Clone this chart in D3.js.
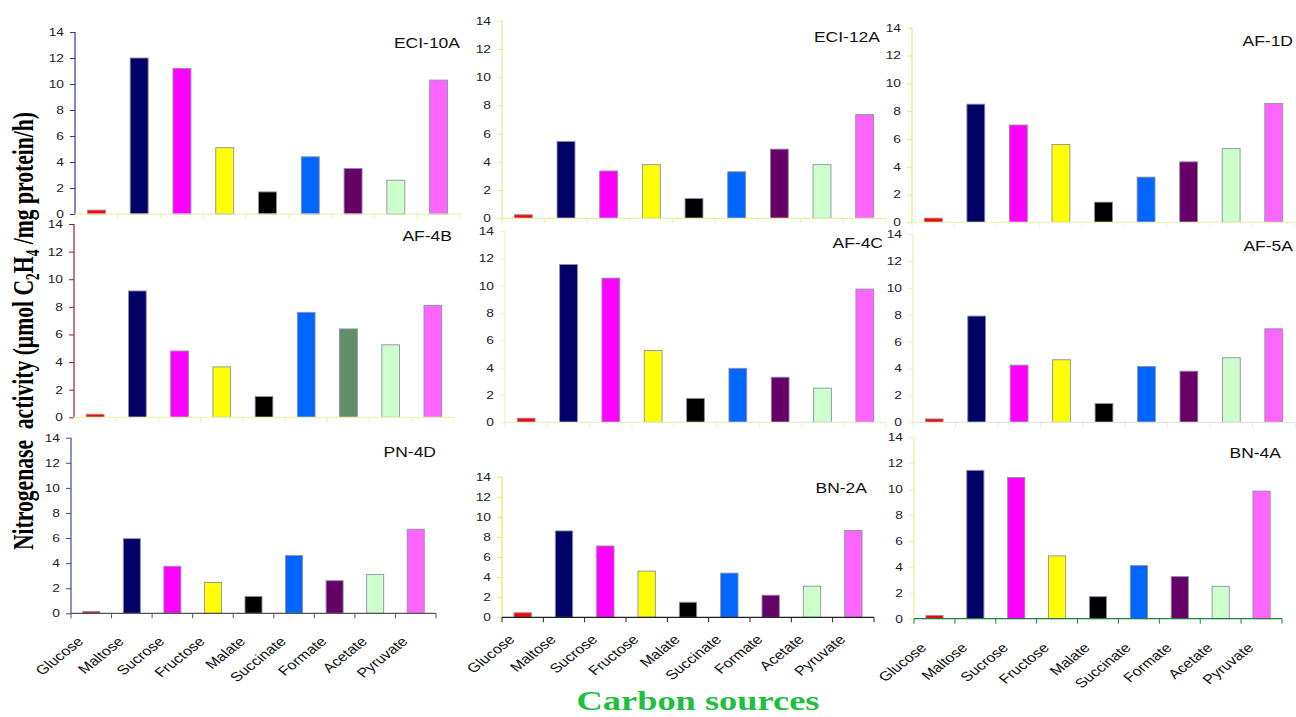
<!DOCTYPE html>
<html>
<head>
<meta charset="utf-8">
<script src="https://cdn.jsdelivr.net/npm/d3@7"></script>
<style>
  html, body { margin: 0; padding: 0; background: #fff; }
  svg { display: block; }
  .sans { font-family: "Liberation Sans", Arial, sans-serif; }
  .serif { font-family: "Liberation Serif", "Times New Roman", serif; font-weight: bold; }
</style>
</head>
<body>
<svg id="chart" width="1296" height="717"></svg>
<script>
// ---------------- DATA ----------------
const categories = ["Glucose", "Maltose", "Sucrose", "Fructose", "Malate", "Succinate", "Formate", "Acetate", "Pyruvate"];
const panelNames = ["ECI-10A", "ECI-12A", "AF-1D", "AF-4B", "AF-4C", "AF-5A", "PN-4D", "BN-2A", "BN-4A"];
const eci10a = [0.3, 12.0, 11.2, 5.1, 1.7, 4.4, 3.5, 2.6, 10.3];
const eci12a = [0.25, 5.45, 3.35, 3.8, 1.4, 3.3, 4.9, 3.8, 7.35];
const af1d   = [0.3, 8.5, 7.0, 5.6, 1.45, 3.25, 4.35, 5.3, 8.55];
const af4b   = [0.22, 9.15, 4.8, 3.65, 1.5, 7.6, 6.4, 5.25, 8.1];
const af4c   = [0.3, 11.55, 10.55, 5.25, 1.75, 3.95, 3.3, 2.5, 9.75];
const af5a   = [0.25, 7.9, 4.25, 4.65, 1.4, 4.15, 3.8, 4.8, 6.95];
const pn4d   = [0.15, 5.95, 3.75, 2.45, 1.35, 4.6, 2.6, 3.1, 6.7];
const bn2a   = [0.45, 8.6, 7.1, 4.6, 1.5, 4.4, 2.2, 3.1, 8.65];
const bn4a   = [0.25, 11.45, 10.9, 4.85, 1.7, 4.1, 3.25, 2.5, 9.85];
const seriesValues = [eci10a, eci12a, af1d, af4b, af4c, af5a, pn4d, bn2a, bn4a];
const yTickValues = [0, 2, 4, 6, 8, 10, 12, 14];
const yMax = 14;

// ---------------- STYLE / LAYOUT ----------------
const barColors = ["#ff0000", "#000066", "#ff00ff", "#ffff00", "#000000", "#0066ff", "#660066", "#ccffcc", "#ff66ff"];
const af4bFormateColor = "#5f8f68";
const layout = [
  {x0: 75,  x1: 460,  yTop: 32,    yBot: 214,   lx: 460,  ly: 48,  yc: "#2a3a8a", xc: "#e6f0a0"},
  {x0: 502, x1: 886,  yTop: 20.7,  yBot: 218.3, lx: 880,  ly: 42,  yc: "#e4ea90", xc: "#e6f0a0"},
  {x0: 912, x1: 1295, yTop: 27.7,  yBot: 222.3, lx: 1293, ly: 46,  yc: "#d8ec80", xc: "#eef2c0"},
  {x0: 74,  x1: 454,  yTop: 224,   yBot: 417.3, lx: 452,  ly: 241, yc: "#8b2040", xc: "#eef2b0"},
  {x0: 505, x1: 886,  yTop: 231,   yBot: 422.3, lx: 883,  ly: 248, yc: "#eef0c0", xc: "#e8ecc8"},
  {x0: 913, x1: 1295, yTop: 234,   yBot: 422.3, lx: 1293, ly: 251, yc: "#eeeeb0", xc: "#e4e6d8"},
  {x0: 71,  x1: 436,  yTop: 437.7, yBot: 613.3, lx: 436,  ly: 457, yc: "#3050a0", xc: "#555555", cdy: 29},
  {x0: 502, x1: 874,  yTop: 476.7, yBot: 617.3, lx: 867,  ly: 493, yc: "#e8e860", xc: "#222222", cdy: 23},
  {x0: 914, x1: 1282, yTop: 437.3, yBot: 618.7, lx: 1281, ly: 458, yc: "#e8eca0", xc: "#208040", cdy: 30}
];
const stretch = 1.25;

const svg = d3.select("#chart");

layout.forEach((L, p) => {
  const vals = seriesValues[p];
  const g = svg.append("g");
  const x = d3.scaleBand().domain(categories).range([L.x0, L.x1]).paddingInner(0.58).paddingOuter(0.29);
  const step = x.step();
  const y = d3.scaleLinear().domain([0, yMax]).range([L.yBot, L.yTop]);

  // bars
  g.selectAll("rect.bar").data(categories).enter().append("rect")
    .attr("class", "bar")
    .attr("x", d => x(d))
    .attr("width", x.bandwidth())
    .attr("y", (d, i) => y(vals[i]))
    .attr("height", (d, i) => y(0) - y(vals[i]))
    .attr("fill", (d, i) => (p === 3 && i === 6) ? af4bFormateColor : barColors[i])
    .attr("stroke", "#8f8fa8")
    .attr("stroke-width", 0.9);

  // y axis
  const ya = g.append("g").attr("transform", `translate(${L.x0},0)`)
    .call(d3.axisLeft(y).tickValues(yTickValues).tickSize(5).tickFormat(""));
  ya.select(".domain").attr("stroke", L.yc).attr("stroke-width", 1.2).attr("d", `M0,${L.yTop}V${L.yBot}`);
  ya.selectAll(".tick line").attr("stroke", L.yc);
  g.selectAll("text.yt").data(yTickValues).enter().append("text")
    .attr("class", "yt sans")
    .attr("transform", d => `translate(${L.x0 - 11},${y(d)}) scale(${stretch},1)`)
    .attr("text-anchor", "end")
    .attr("dy", "0.36em")
    .attr("font-size", 11)
    .attr("fill", "#222")
    .text(d => d);

  // x axis
  const boundaries = d3.range(categories.length + 1).map(i => L.x0 + i * step);
  g.append("line").attr("x1", L.x0).attr("x2", L.x1).attr("y1", L.yBot).attr("y2", L.yBot)
    .attr("stroke", L.xc).attr("stroke-width", 1.2);
  g.selectAll("line.xt").data(boundaries).enter().append("line")
    .attr("class", "xt")
    .attr("x1", d => d).attr("x2", d => d)
    .attr("y1", L.yBot).attr("y2", L.yBot + 5)
    .attr("stroke", L.xc);

  // category labels, bottom row only: outer group stretches, inner text rotates
  if (L.cdy !== undefined) {
    const cg = g.selectAll("g.cat").data(categories).enter().append("g")
      .attr("class", "cat")
      .attr("transform", d => `translate(${x(d) + x.bandwidth() / 2 - 7},${L.yBot + L.cdy}) scale(${stretch},1)`);
    cg.append("text")
      .attr("class", "sans")
      .attr("transform", "rotate(-45)")
      .attr("text-anchor", "end")
      .attr("font-size", 13)
      .attr("fill", "#111")
      .text(d => d);
  }

  // panel label
  g.append("text")
    .attr("class", "sans")
    .attr("transform", `translate(${L.lx},${L.ly}) scale(${stretch},1)`)
    .attr("text-anchor", "end")
    .attr("font-size", 14)
    .attr("fill", "#111")
    .text(panelNames[p]);
});

// y axis title
const yt = svg.append("text")
  .attr("class", "serif")
  .attr("transform", "translate(33,331) scale(1.4,1) rotate(-90)")
  .attr("text-anchor", "middle")
  .style("font-size", "21px")
  .attr("fill", "#000")
  .style("white-space", "pre");
yt.append("tspan").text("Nitrogenase  activity (µmol C");
yt.append("tspan").style("font-size", "0.62em").attr("dy", 4).text("2");
yt.append("tspan").attr("dy", -4).text("H");
yt.append("tspan").style("font-size", "0.62em").attr("dy", 4).text("4");
yt.append("tspan").attr("dy", -4).text(" /mg protein/h)");
const ytLen = yt.node().getComputedTextLength();
if (ytLen > 0) yt.style("font-size", (21 * 438 / ytLen).toFixed(2) + "px");

// x axis title
svg.append("text")
  .attr("class", "serif")
  .attr("transform", "translate(698,710) scale(1.3,1)")
  .attr("text-anchor", "middle")
  .style("font-size", "28px")
  .attr("fill", "#1fbf3f")
  .text("Carbon sources");
</script>
</body>
</html>
